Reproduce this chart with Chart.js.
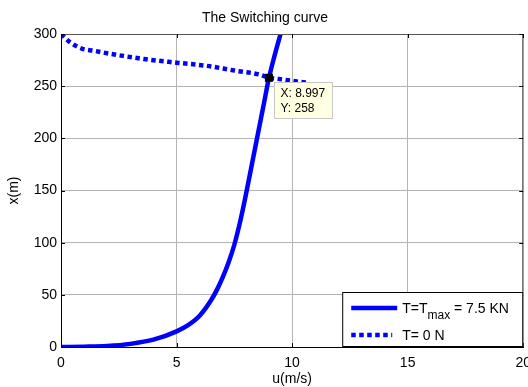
<!DOCTYPE html>
<html>
<head>
<meta charset="utf-8">
<script src="https://cdn.jsdelivr.net/npm/chart.js@4.4.1/dist/chart.umd.min.js"></script>
<style>
  html, body { margin: 0; padding: 0; background: #fff; overflow: hidden; }
  #wrap { position: relative; width: 539px; height: 387px; }
</style>
</head>
<body>
<div id="wrap"><canvas id="c"></canvas></div>
<script>
// Switching curve: full-thrust trajectory and zero-thrust trajectory in the (u, x) plane
const uThrust = [0, 1, 2, 3, 4, 5, 5.5, 6, 6.5, 6.75, 7, 7.25, 7.5, 7.75, 8, 8.25, 8.5, 8.75, 9, 9.25, 9.5];
const xThrust = [0, 0.3, 1, 3, 7, 15, 21, 30, 45, 55, 67, 81, 98, 120, 146, 174, 202, 230, 258, 280, 300];

const uCoast = [0, 0.4, 0.9, 1.4, 2.4, 3.6, 5, 6.3, 7.5, 8.6, 9, 9.4, 10.2, 10.6];
const xCoast = [300, 292, 286, 284, 280, 276, 272.5, 269.5, 265, 261, 258, 257, 254.5, 253.5];

const xTicks = [0, 5, 10, 15, 20];
const yTicks = [0, 50, 100, 150, 200, 250, 300];

// intersection picked with the data cursor
const tipU = [8.997];
const tipX = [258];

const FONT = '"Liberation Sans", Arial, sans-serif';
const BLUE = '#0000ff';

function pts(us, xs) { return us.map((u, i) => ({ x: u, y: xs[i] })); }

// draws box edges, inward tick marks, data tip and legend
const decor = {
  id: 'decor',
  afterDatasetsDraw(chart) {
    const { ctx, chartArea: a, scales: { x, y } } = chart;
    ctx.save();
    // top / right box edges
    ctx.strokeStyle = '#555';
    ctx.lineWidth = 1;
    ctx.beginPath();
    ctx.moveTo(a.left, a.top + 0.5); ctx.lineTo(a.right, a.top + 0.5);
    ctx.moveTo(a.right - 0.5, a.top); ctx.lineTo(a.right - 0.5, a.bottom);
    ctx.stroke();
    // inward tick marks
    ctx.strokeStyle = '#000';
    ctx.beginPath();
    xTicks.forEach(v => {
      const px = Math.round(x.getPixelForValue(v)) + 0.5;
      ctx.moveTo(px, a.bottom); ctx.lineTo(px, a.bottom - 4);
      ctx.moveTo(px, a.top); ctx.lineTo(px, a.top + 4);
    });
    yTicks.forEach(v => {
      const py = Math.round(y.getPixelForValue(v)) + 0.5;
      ctx.moveTo(a.left, py); ctx.lineTo(a.left + 4, py);
      ctx.moveTo(a.right, py); ctx.lineTo(a.right - 4, py);
    });
    ctx.stroke();

    // data tip marker and box
    const mx = x.getPixelForValue(tipU[0]);
    const my = y.getPixelForValue(tipX[0]);
    ctx.fillStyle = '#000';
    ctx.fillRect(mx - 4, my - 4, 8, 8);
    const bx = Math.round(mx + 5) + 0.5, by = Math.round(my + 4) + 0.5;
    ctx.fillStyle = '#ffffe1';
    ctx.strokeStyle = '#c8c8c8';
    ctx.fillRect(bx, by, 58, 36);
    ctx.strokeRect(bx, by, 58, 36);
    ctx.fillStyle = '#000';
    ctx.font = '12px ' + FONT;
    ctx.textBaseline = 'middle';
    ctx.textAlign = 'left';
    ctx.fillText('X: ' + tipU[0], bx + 6, by + 11);
    ctx.fillText('Y: ' + tipX[0], bx + 6, by + 26);

    // legend
    const lw = 181, lh = 55;
    const lx = a.right - lw, ly = a.bottom - lh;
    ctx.fillStyle = '#fff';
    ctx.fillRect(lx, ly, lw, lh);
    ctx.strokeStyle = '#000';
    ctx.lineWidth = 1;
    ctx.strokeRect(lx + 0.5, ly + 0.5, lw - 1, lh - 1);
    const ds = chart.data.datasets;
    const rows = [ly + 16, ly + 43];
    ds.forEach((d, i) => {
      ctx.save();
      ctx.strokeStyle = d.borderColor;
      ctx.lineWidth = d.borderWidth;
      ctx.setLineDash(d.borderDash || []);
      ctx.lineCap = 'butt';
      ctx.beginPath();
      ctx.moveTo(lx + 9, rows[i]);
      ctx.lineTo(lx + (i === 0 ? 55 : 50), rows[i]);
      ctx.stroke();
      ctx.restore();
    });
    ctx.fillStyle = '#000';
    ctx.textBaseline = 'alphabetic';
    ctx.font = '14px ' + FONT;
    let tx = lx + 60;
    const b1 = rows[0] + 5;
    ctx.fillText('T=T', tx, b1);
    tx += ctx.measureText('T=T').width;
    ctx.font = '12px ' + FONT;
    ctx.fillText('max', tx, b1 + 6);
    tx += ctx.measureText('max').width;
    ctx.font = '14px ' + FONT;
    ctx.fillText(' = 7.5 KN', tx, b1);
    ctx.fillText('T= 0 N', lx + 60, rows[1] + 5);
    ctx.restore();
  }
};

new Chart(document.getElementById('c'), {
  type: 'scatter',
  data: {
    datasets: [
      {
        label: 'T=Tmax = 7.5 KN',
        data: pts(uThrust, xThrust),
        showLine: true,
        borderColor: BLUE,
        borderWidth: 4.5,
        pointRadius: 0,
        cubicInterpolationMode: 'monotone'
      },
      {
        label: 'T= 0 N',
        data: pts(uCoast, xCoast),
        showLine: true,
        borderColor: BLUE,
        borderWidth: 4.5,
        borderDash: [4.5, 3.5],
        borderCapStyle: 'butt',
        pointRadius: 0,
        cubicInterpolationMode: 'monotone'
      }
    ]
  },
  options: {
    responsive: true,
    maintainAspectRatio: false,
    animation: false,
    layout: { padding: { left: 0, right: 9, top: 0, bottom: 0 } },
    plugins: {
      legend: { display: false },
      tooltip: { enabled: false },
      title: {
        display: true,
        text: 'The Switching curve',
        color: '#000',
        font: { family: FONT, size: 14, weight: 'normal' },
        padding: { top: 9.6, bottom: 7.6 }
      }
    },
    scales: {
      x: {
        type: 'linear',
        min: 0, max: 20,
        afterBuildTicks: s => { s.ticks = xTicks.map(v => ({ value: v })); },
        afterFit: s => { s.height = 40; },
        ticks: { color: '#000', font: { family: FONT, size: 14 }, padding: 8, maxRotation: 0 },
        grid: { color: '#b4b4b4', drawTicks: false },
        border: { color: '#000', width: 1 },
        title: {
          display: true, text: 'u(m/s)', color: '#000',
          font: { family: FONT, size: 14 }, padding: { top: 0, bottom: -1 }
        }
      },
      y: {
        type: 'linear',
        min: 0, max: 300,
        afterBuildTicks: s => { s.ticks = yTicks.map(v => ({ value: v })); },
        afterFit: s => { s.width = 61; },
        ticks: { color: '#000', font: { family: FONT, size: 14 }, padding: 4 },
        grid: { color: '#b4b4b4', drawTicks: false },
        border: { color: '#000', width: 1 },
        title: {
          display: true, text: 'x(m)', color: '#000',
          font: { family: FONT, size: 14 }, padding: { top: 5.6, bottom: 0 }
        }
      }
    }
  },
  plugins: [decor]
});
</script>
</body>
</html>
